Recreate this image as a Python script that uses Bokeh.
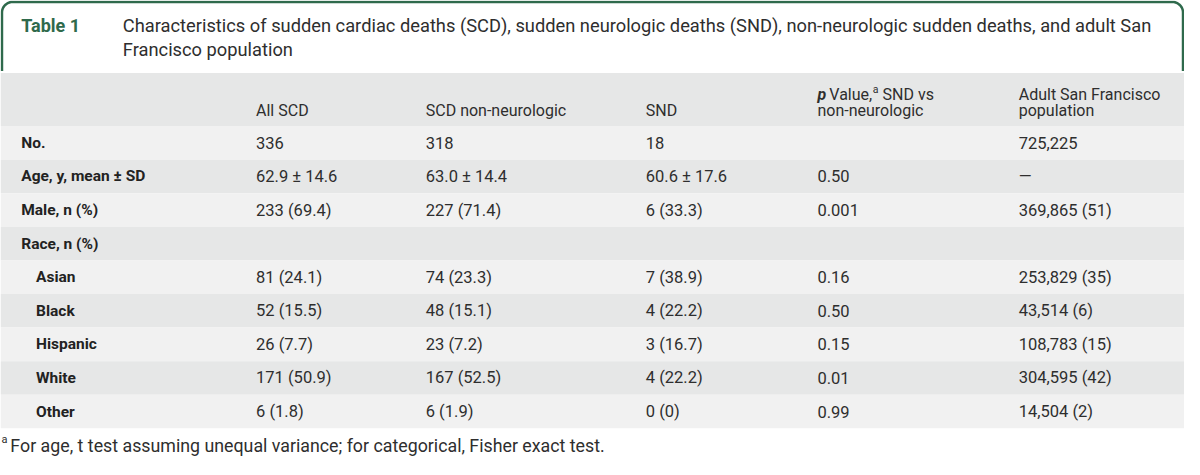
import numpy as np
from bokeh.plotting import figure
from bokeh.models import ColumnDataSource, Range1d
from bokeh.core.properties import value
from bokeh.embed import file_html
from bokeh.resources import INLINE

# ---------------- data ----------------
table_label = "Table 1"
title_lines = [
    "Characteristics of sudden cardiac deaths (SCD), sudden neurologic deaths (SND), non-neurologic sudden deaths, and adult San",
    "Francisco population",
]
col_headers = ["All SCD", "SCD non-neurologic", "SND"]
p_header = ["p", "Value,", "a", "SND vs", "non-neurologic"]
pop_header = ["Adult San Francisco", "population"]
row_labels = ["No.", "Age, y, mean ± SD", "Male, n (%)", "Race, n (%)",
              "Asian", "Black", "Hispanic", "White", "Other"]
row_indent = [0, 0, 0, 0, 1, 1, 1, 1, 1]
all_scd = ["336", "62.9 ± 14.6", "233 (69.4)", "", "81 (24.1)", "52 (15.5)", "26 (7.7)", "171 (50.9)", "6 (1.8)"]
scd_non_neuro = ["318", "63.0 ± 14.4", "227 (71.4)", "", "74 (23.3)", "48 (15.1)", "23 (7.2)", "167 (52.5)", "6 (1.9)"]
snd = ["18", "60.6 ± 17.6", "6 (33.3)", "", "7 (38.9)", "4 (22.2)", "3 (16.7)", "4 (22.2)", "0 (0)"]
p_values = ["", "0.50", "0.001", "", "0.16", "0.50", "0.15", "0.01", "0.99"]
sf_population = ["725,225", "—", "369,865 (51)", "", "253,829 (35)", "43,514 (6)",
                 "108,783 (15)", "304,595 (42)", "14,504 (2)"]
footnote = "For age, t test assuming unequal variance; for categorical, Fisher exact test."

# ---------------- layout ----------------
W, H = 1200, 475
FONT = "Roboto"
GREEN = "#2f6a4c"
TXT = "#2e2e2e"
DARK_BG = "#e6e7e7"
LIGHT_BG = "#f1f1f1"
col_x = [21, 259, 431, 654, 828, 1032]
indent_x = 36
header_top, header_bot = 75, 130
row_h = 34.75
HEAD = "16px"
BODY = "16.5px"

p = figure(width=1184, height=459, x_range=Range1d(0, W), y_range=Range1d(H, 0),
           output_backend="svg", toolbar_location=None, min_border=0,
           background_fill_color="white", border_fill_color="white")
p.axis.visible = False
p.grid.visible = False
p.outline_line_color = None

# header background
p.quad(left=[0], right=[W], top=[header_top], bottom=[header_bot], fill_color=DARK_BG, line_color=None)

# row backgrounds
n = len(row_labels)
tops = [header_bot + row_h * i for i in range(n)]
bots = [t + row_h for t in tops]
cols = [LIGHT_BG if i % 2 == 0 else DARK_BG for i in range(n)]
p.quad(left=[0] * n, right=[W] * n, top=tops, bottom=bots, fill_color=cols, line_color=None)

# title border with rounded top corners
r = 11
lw_off = 1.5
th1 = np.linspace(np.pi, 1.5 * np.pi, 20)
th2 = np.linspace(1.5 * np.pi, 2 * np.pi, 20)
bx = np.concatenate([[lw_off], lw_off + r + r * np.cos(th1), W - lw_off - r + r * np.cos(th2), [W - lw_off]])
by = np.concatenate([[73], lw_off + r + r * np.sin(th1), lw_off + r + r * np.sin(th2), [73]])
p.line(bx, by, line_color=GREEN, line_width=2.5)

# title
p.text(x=[21], y=[26], text=[table_label], text_font=value(FONT), text_font_style="bold",
       text_font_size="18px", text_color=GREEN, text_baseline="middle")
p.text(x=[124, 124], y=[26, 51], text=title_lines, text_font=value(FONT),
       text_font_size="18.3px", text_color=TXT, text_baseline="middle")

# column headers
hy1, hy2 = 97, 114
p.text(x=[col_x[1], col_x[2], col_x[3]], y=[hy2] * 3, text=col_headers, text_font=value(FONT),
       text_font_size=HEAD, text_color=TXT, text_baseline="middle")
p.text(x=[col_x[5], col_x[5]], y=[hy1, hy2], text=pop_header,
       text_font=value(FONT), text_font_size=HEAD, text_color=TXT, text_baseline="middle")
p.text(x=[col_x[4]], y=[hy1], text=[p_header[0]], text_font=value(FONT), text_font_style="bold italic",
       text_font_size=HEAD, text_color=TXT, text_baseline="middle")
p.text(x=[col_x[4] + 12], y=[hy1], text=[p_header[1]], text_font=value(FONT),
       text_font_size=HEAD, text_color=TXT, text_baseline="middle")
p.text(x=[col_x[4] + 56], y=[hy1 - 5], text=[p_header[2]], text_font=value(FONT),
       text_font_size="10.5px", text_color=TXT, text_baseline="middle")
p.text(x=[col_x[4] + 66], y=[hy1], text=[p_header[3]], text_font=value(FONT),
       text_font_size=HEAD, text_color=TXT, text_baseline="middle")
p.text(x=[col_x[4]], y=[hy2], text=[p_header[4]], text_font=value(FONT),
       text_font_size=HEAD, text_color=TXT, text_baseline="middle")

# row labels
ys = [t + row_h / 2 for t in tops]
lx = [indent_x if ind else col_x[0] for ind in row_indent]
src = ColumnDataSource(dict(x=lx, y=ys, t=row_labels))
p.text(x="x", y="y", text="t", source=src, text_font=value(FONT), text_font_style="bold",
       text_font_size="15.5px", text_color="#222222", text_baseline="middle")

# cells
for cx, vals in zip(col_x[1:], [all_scd, scd_non_neuro, snd, p_values, sf_population]):
    s = ColumnDataSource(dict(x=[cx] * n, y=ys, t=vals))
    p.text(x="x", y="y", text="t", source=s, text_font=value(FONT),
           text_font_size=BODY, text_color=TXT, text_baseline="middle")

# footnote
p.text(x=[1], y=[454], text=["a"], text_font=value(FONT), text_font_size="11px",
       text_color=TXT, text_baseline="middle")
p.text(x=[10], y=[461], text=[footnote], text_font=value(FONT), text_font_size="17.8px",
       text_color=TXT, text_baseline="middle")

open("out.html", "w").write(file_html(p, INLINE))
